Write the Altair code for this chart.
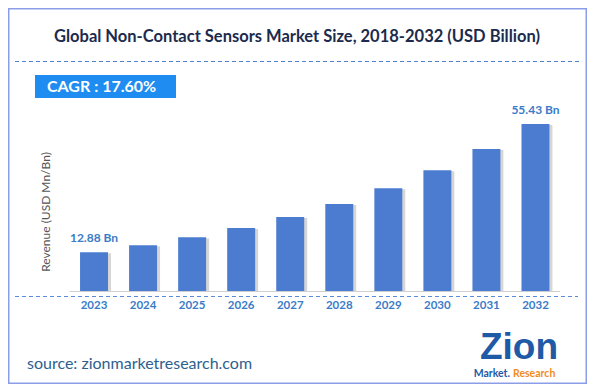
import altair as alt
import pandas as pd

years = ["2023", "2024", "2025", "2026", "2027", "2028", "2029", "2030", "2031", "2032"]
values = [12.88, 15.15, 17.8, 20.9, 24.6, 28.9, 34.1, 40.1, 47.1, 55.43]
labels = ["12.88 Bn", "", "", "", "", "", "", "", "", "55.43 Bn"]

TITLE = "Global Non-Contact Sensors Market Size, 2018-2032 (USD Billion)"
CAGR = "CAGR :  17.60%"
YTITLE = "Revenue (USD Mn/Bn)"
SOURCE = "source: zionmarketresearch.com"

df = pd.DataFrame({"year": years, "value": values, "label": labels})

W, H = 579, 376
FONT = "Lato"
BLUE_TXT = "#3a7cc8"

xs = alt.Scale(range=[61.5, 552], paddingInner=0.43, paddingOuter=0.215)
ys = alt.Scale(domain=[0, 55.43], range=[283, 116], nice=False, zero=True)

base = alt.Chart(df)

shadow = base.mark_bar(color="#000000", opacity=0.16, xOffset=3, yOffset=1).encode(
    x=alt.X("year:O", scale=xs, axis=None),
    y=alt.Y("value:Q", scale=ys, axis=None),
)
bars = base.mark_bar(color="#4b7cd0").encode(
    x=alt.X("year:O", scale=xs, axis=None),
    y=alt.Y("value:Q", scale=ys, axis=None),
)
vlabels = base.mark_text(font=FONT, fontSize=12, fontWeight="bold", color=BLUE_TXT,
                         baseline="middle", dy=-14).encode(
    x=alt.X("year:O", scale=xs, axis=None),
    y=alt.Y("value:Q", scale=ys, axis=None),
    text="label:N",
)
ylabels = base.mark_text(font=FONT, fontSize=11.5, fontWeight="bold", color=BLUE_TXT,
                         baseline="middle").encode(
    x=alt.X("year:O", scale=xs, axis=None),
    y=alt.value(298),
    text="year:N",
)

one = pd.DataFrame({"t": [""]})

def txt(s, x, y, font=FONT, baseline="middle", **kw):
    return alt.Chart(pd.DataFrame({"t": [s]})).mark_text(font=font, baseline=baseline, **kw).encode(
        x=alt.value(x), y=alt.value(y), text="t:N")

border = alt.Chart(one).mark_rect(filled=False, stroke="#8c9de8", strokeWidth=1.5).encode(
    x=alt.value(0.75), x2=alt.value(578.25), y=alt.value(0.75), y2=alt.value(375.25))
top_dash = alt.Chart(one).mark_rule(color="#4f80cc", strokeDash=[4, 3], strokeWidth=1).encode(
    x=alt.value(7), x2=alt.value(571), y=alt.value(53.5))
bot_dash = alt.Chart(one).mark_rule(color="#5b8bd6", strokeDash=[4, 3], strokeWidth=1.2).encode(
    x=alt.value(7), x2=alt.value(570), y=alt.value(288.5))
baseline = alt.Chart(one).mark_rule(color="#d0d0d0", strokeWidth=1).encode(
    x=alt.value(61.5), x2=alt.value(552), y=alt.value(283.5))
cagr_box = alt.Chart(one).mark_rect(color="#1e8cf0").encode(
    x=alt.value(27), x2=alt.value(168), y=alt.value(67), y2=alt.value(90))

title = txt(TITLE, 289, 29, fontSize=16.5, fontWeight="bold", color="#1c2b4d", align="center")
cagr = txt(CAGR, 39, 79, fontSize=16, fontWeight="bold", color="#ffffff", align="left")
ytitle = txt(YTITLE, 38, 204, fontSize=12, color="#555555", align="center", angle=270)
source = txt(SOURCE, 19, 356, fontSize=16, color="#2d5f8f", align="left")
logo1 = txt("Zion", 511, 351, font="Liberation Sans", baseline="alphabetic", fontSize=37,
            fontWeight="bold", color="#1f5aa6", align="center")
logo2 = txt("Market.", 502, 366, fontSize=10.5, fontWeight="bold", color="#1f5aa6", align="right")
logo3 = txt("Research", 505, 366, fontSize=10.5, fontWeight="bold", color="#f08c1e", align="left")

chart = alt.layer(
    border, top_dash, cagr_box, title, cagr, ytitle,
    shadow, bars, baseline, bot_dash, vlabels, ylabels,
    source, logo1, logo2, logo3,
).properties(
    width=W, height=H, padding=0, autosize=alt.AutoSizeParams(type="none"),
    background="#ffffff",
).configure_view(stroke=None)

chart.save("out.html", embed_options={"renderer": "svg", "actions": False})
